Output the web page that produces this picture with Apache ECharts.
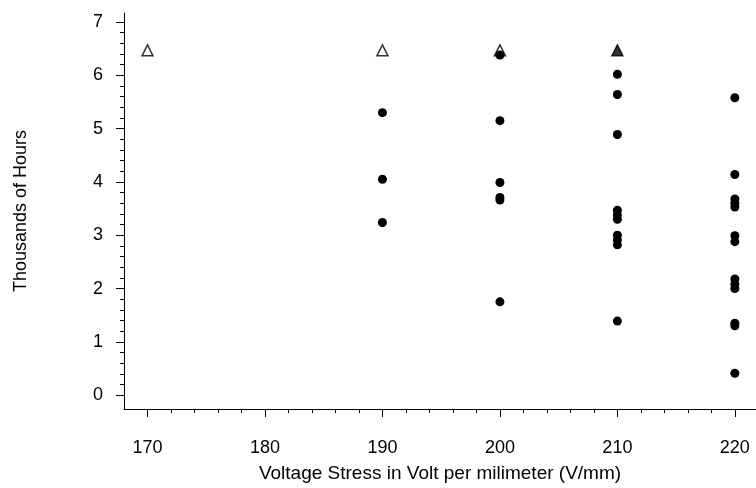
<!DOCTYPE html>
<html>
<head>
<meta charset="utf-8">
<script src="https://cdn.jsdelivr.net/npm/echarts@6/dist/echarts.min.js"></script>
<style>
  html, body { margin: 0; padding: 0; background: #fff; }
  #main { width: 756px; height: 488px; }
</style>
</head>
<body>
<div id="main"></div>
<script>
// tick labels
const stressTicks = [170, 180, 190, 200, 210, 220];
const hourTicks = [0, 1, 2, 3, 4, 5, 6, 7];

// failure times (thousands of hours) at each voltage stress
const fail190 = [5.30, 4.05, 3.24];
const fail200 = [6.38, 5.15, 3.99, 3.71, 3.66, 1.75];
const fail210 = [6.02, 5.64, 4.89, 3.47, 3.38, 3.30, 3.00, 2.91, 2.82, 1.39];
const fail220 = [5.58, 4.14, 3.68, 3.60, 3.53, 2.99, 2.88, 2.18, 2.08, 2.00, 1.35, 1.30, 0.41];

// censored (still running) units
const censoredStress = [170, 190, 200];
const censoredHours = [6.47, 6.47, 6.47];
// 210 has several censored units drawn on top of each other
const censoredManyStress = [210];
const censoredManyHours = [6.47];

const font = 'Liberation Sans, Arial, sans-serif';

function pairs(x, ys) {
  return ys.map(y => [x, y]);
}

const failData = [].concat(
  pairs(190, fail190),
  pairs(200, fail200),
  pairs(210, fail210),
  pairs(220, fail220)
);
const censoredData = censoredStress.map((x, i) => [x, censoredHours[i]]);
const censoredManyData = censoredManyStress.map((x, i) => [x, censoredManyHours[i]]);

// minor ticks every 2 V/mm and 0.2 thousand hours
const stressMinor = [];
for (let v = 172; v < 220; v += 2) if (v % 10 !== 0) stressMinor.push(v);
const hourMinor = [];
for (let k = 1; k < 35; k++) if (k % 5 !== 0) hourMinor.push(+(k * 0.2).toFixed(1));

const xMin = 168, xMax = 221.8;
const yMin = -0.26, yMax = 7.17;

const chart = echarts.init(document.getElementById('main'));
const option = {
  backgroundColor: '#fff',
  animation: false,
  grid: {
    left: 124,
    top: 13,
    right: 0,
    bottom: 79
  },
  xAxis: [{
    type: 'value',
    min: xMin,
    max: xMax,
    name: 'Voltage Stress in Volt per milimeter (V/mm)',
    nameLocation: 'middle',
    nameGap: 55,
    nameTextStyle: { color: '#000', fontSize: 19, fontFamily: font },
    splitLine: { show: false },
    axisLine: { onZero: false, lineStyle: { color: '#000', width: 1 } },
    axisTick: { customValues: stressTicks, length: 8, lineStyle: { color: '#000' } },
    axisLabel: { customValues: stressTicks, margin: 30, color: '#000', fontSize: 18, fontFamily: font }
  }, {
    type: 'value',
    min: xMin,
    max: xMax,
    position: 'bottom',
    splitLine: { show: false },
    axisLine: { show: false, onZero: false },
    axisTick: { customValues: stressMinor, length: 4, lineStyle: { color: '#000' } },
    axisLabel: { show: false }
  }],
  yAxis: [{
    type: 'value',
    min: yMin,
    max: yMax,
    name: 'Thousands of Hours',
    nameLocation: 'middle',
    nameGap: 94,
    nameTextStyle: { color: '#000', fontSize: 18, fontFamily: font },
    splitLine: { show: false },
    axisLine: { onZero: false, lineStyle: { color: '#000', width: 1 } },
    axisTick: { customValues: hourTicks, length: 8, lineStyle: { color: '#000' } },
    axisLabel: { customValues: hourTicks, margin: 21, color: '#000', fontSize: 18, fontFamily: font }
  }, {
    type: 'value',
    min: yMin,
    max: yMax,
    position: 'left',
    splitLine: { show: false },
    axisLine: { show: false, onZero: false },
    axisTick: { customValues: hourMinor, length: 4, lineStyle: { color: '#000' } },
    axisLabel: { show: false }
  }],
  series: [{
    name: 'Censored',
    type: 'scatter',
    symbol: 'triangle',
    symbolSize: 11,
    itemStyle: { color: '#fff', borderColor: '#000', borderWidth: 1.5 },
    z: 2,
    data: censoredData
  }, {
    name: 'Censored (several)',
    type: 'scatter',
    symbol: 'triangle',
    symbolSize: 11,
    itemStyle: { color: '#000', borderColor: '#000', borderWidth: 1.5 },
    z: 2,
    data: censoredManyData
  }, {
    name: 'Failed',
    type: 'scatter',
    symbol: 'circle',
    symbolSize: 9,
    itemStyle: { color: '#000', opacity: 1 },
    z: 3,
    data: failData
  }]
};
chart.setOption(option);
</script>
</body>
</html>
